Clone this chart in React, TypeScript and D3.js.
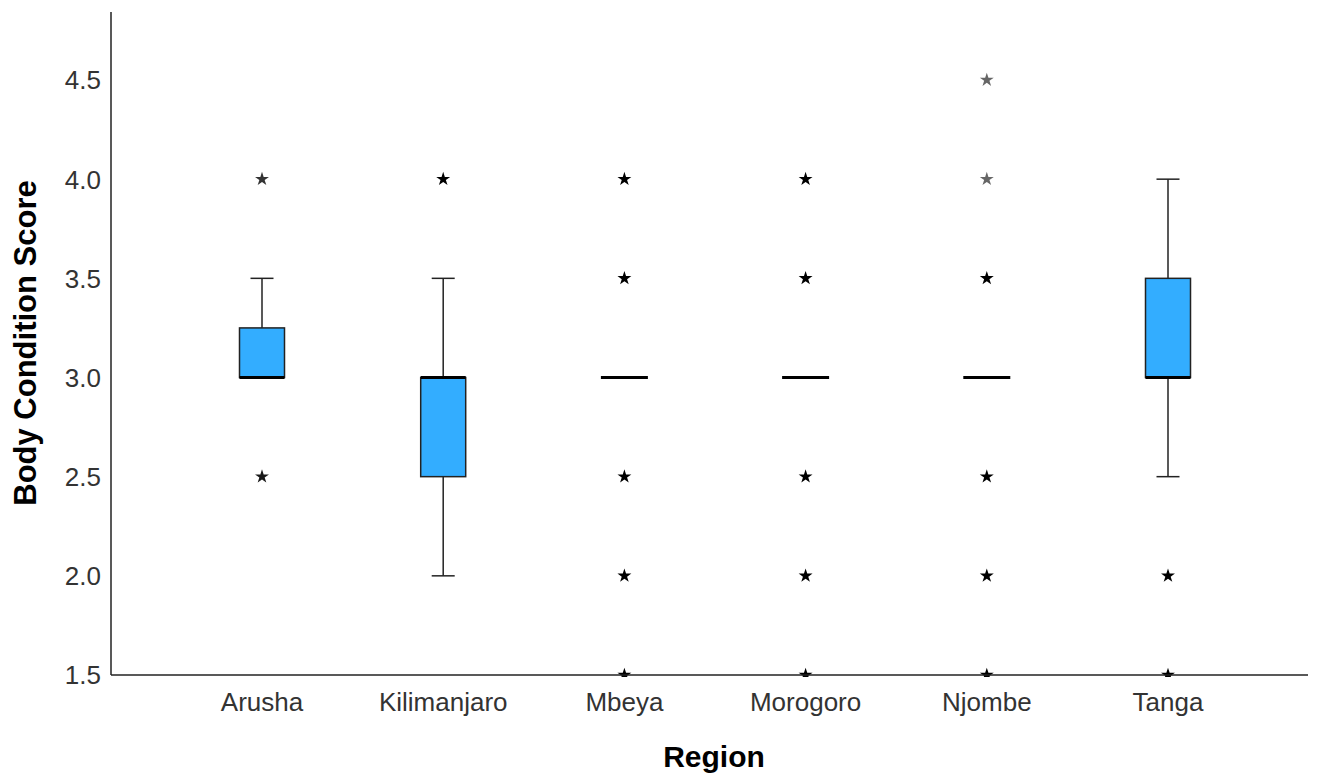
import React from "react";
import * as d3 from "d3";

const regions = ["Arusha", "Kilimanjaro", "Mbeya", "Morogoro", "Njombe", "Tanga"];
const q1 = [3.0, 2.5, 3.0, 3.0, 3.0, 3.0];
const medians = [3.0, 3.0, 3.0, 3.0, 3.0, 3.0];
const q3 = [3.25, 3.0, 3.0, 3.0, 3.0, 3.5];
const whiskerLow = [3.0, 2.0, 3.0, 3.0, 3.0, 2.5];
const whiskerHigh = [3.5, 3.5, 3.0, 3.0, 3.0, 4.0];
// outliers: region index, value, darkness
const outlierRegion = [0, 0, 1, 2, 2, 2, 2, 2, 3, 3, 3, 3, 3, 4, 4, 4, 4, 4, 4, 5, 5];
const outlierValue = [4.0, 2.5, 4.0, 4.0, 3.5, 2.5, 2.0, 1.5, 4.0, 3.5, 2.5, 2.0, 1.5, 4.5, 4.0, 3.5, 2.5, 2.0, 1.5, 2.0, 1.5];
const outlierWeight = [0.8, 0.9, 1, 1, 1, 1, 1, 1, 1, 1, 1, 1, 1, 0.6, 0.6, 1, 1, 1, 1, 1, 1];
const yTicks = [1.5, 2.0, 2.5, 3.0, 3.5, 4.0, 4.5];

const W = 1328, H = 776;
const axisX = 111, axisBottom = 675, axisTop = 12, axisRight = 1308;

export default function App() {
  const y = d3.scaleLinear().domain([1.5, 4.5]).range([axisBottom, 80]);
  const x = d3.scalePoint<string>().domain(regions).range([262, 1168]);
  const boxW = 45, capW = 23, medW = 47;
  const font = "'Liberation Sans', Arial, sans-serif";
  const star = d3.symbol().type(d3.symbolStar).size(60)();

  return (
    <svg width={W} height={H} style={{ position: "absolute", left: 0, top: 0, background: "#fff" }} fontFamily={font}>
      <defs>
        <clipPath id="plot">
          <rect x={axisX} y={0} width={axisRight - axisX} height={axisBottom + 2} />
        </clipPath>
      </defs>
      <g>
        {regions.map((r, i) => {
          const cx = x(r)!;
          const hasBox = q3[i] > q1[i];
          return (
            <g key={r}>
              {whiskerHigh[i] > q3[i] && (
                <g stroke="#222" strokeWidth={1.5}>
                  <line x1={cx} x2={cx} y1={y(q3[i])} y2={y(whiskerHigh[i])} />
                  <line x1={cx - capW / 2} x2={cx + capW / 2} y1={y(whiskerHigh[i])} y2={y(whiskerHigh[i])} />
                </g>
              )}
              {whiskerLow[i] < q1[i] && (
                <g stroke="#222" strokeWidth={1.5}>
                  <line x1={cx} x2={cx} y1={y(q1[i])} y2={y(whiskerLow[i])} />
                  <line x1={cx - capW / 2} x2={cx + capW / 2} y1={y(whiskerLow[i])} y2={y(whiskerLow[i])} />
                </g>
              )}
              {hasBox && (
                <rect x={cx - boxW / 2} y={y(q3[i])} width={boxW} height={y(q1[i]) - y(q3[i])}
                  fill="#33adff" stroke="#222" strokeWidth={1.5} />
              )}
              <line x1={cx - (hasBox ? boxW / 2 : medW / 2)} x2={cx + (hasBox ? boxW / 2 : medW / 2)}
                y1={y(medians[i])} y2={y(medians[i])} stroke="#000" strokeWidth={3} />
            </g>
          );
        })}
      </g>
      <g clipPath="url(#plot)">
        {outlierValue.map((v, k) => (
          <path key={k} d={star!} transform={`translate(${x(regions[outlierRegion[k]])},${y(v)})`}
            fill="#000" fillOpacity={outlierWeight[k]} />
        ))}
      </g>
      <line x1={axisX} x2={axisX} y1={axisTop} y2={axisBottom} stroke="#222" strokeWidth={1.5} />
      <line x1={axisX} x2={axisRight} y1={axisBottom} y2={axisBottom} stroke="#222" strokeWidth={1.5} />
      {yTicks.map((t) => (
        <text key={t} x={101} y={y(t)} dy="0.36em" textAnchor="end" fontSize={26} fill="#333">
          {t.toFixed(1)}
        </text>
      ))}
      {regions.map((r) => (
        <text key={r} x={x(r)!} y={711} textAnchor="middle" fontSize={26} fill="#333">{r}</text>
      ))}
      <text x={714} y={767} textAnchor="middle" fontSize={30} fontWeight="bold" fill="#000">Region</text>
      <text transform={`translate(36,${343}) rotate(-90)`} textAnchor="middle" fontSize={31} fontWeight="bold" fill="#000">
        Body Condition Score
      </text>
    </svg>
  );
}
